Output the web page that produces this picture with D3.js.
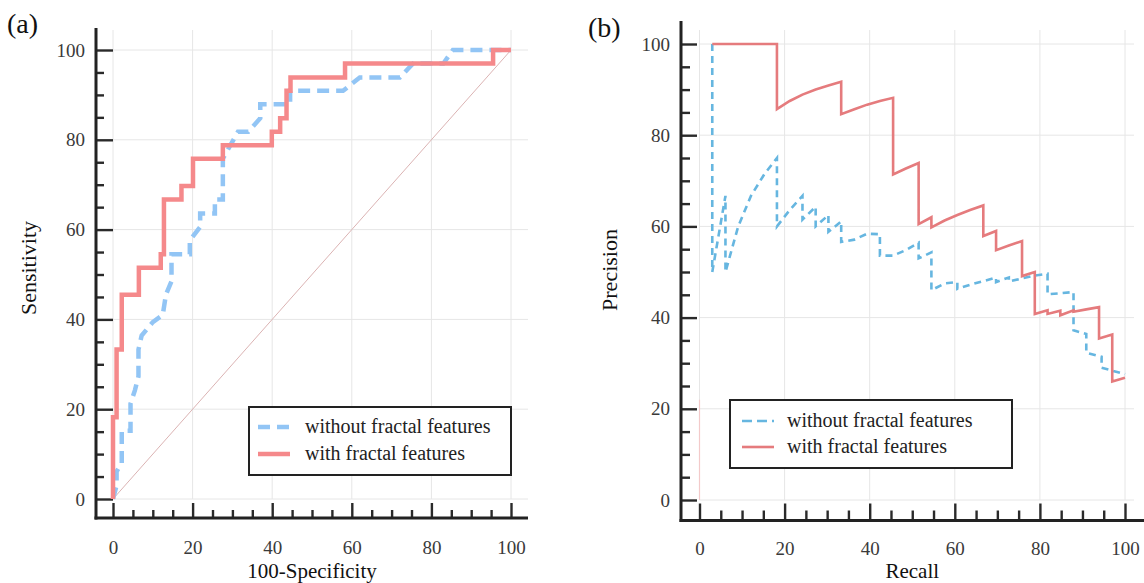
<!DOCTYPE html>
<html>
<head>
<meta charset="utf-8">
<script src="https://cdn.jsdelivr.net/npm/d3@7"></script>
<style>
  body { margin: 0; background: #fff; }
  svg text { font-family: "Liberation Serif", "Times New Roman", Times, "DejaVu Serif", serif !important; }
</style>
</head>
<body>
<div id="chart"></div>
<script>
// ---- data ----
var ticks = [0, 20, 40, 60, 80, 100];
var minorTicks = [5, 10, 15, 25, 30, 35, 45, 50, 55, 65, 70, 75, 85, 90, 95];
var seriesNames = ['without fractal features', 'with fractal features'];

// ROC, [100-specificity, sensitivity]
var rocWithout = [[0,0],[0.9,3],[0.9,6.1],[2.2,8],[2.2,15.2],[4.4,15.2],[4.4,21.2],[5.5,24.2],[6.4,27.3],[6.4,33.3],
  [7.2,36.4],[10,39.4],[12.5,41],[13.3,45.5],[14.7,48.5],[14.7,54.5],[19.3,54.5],[19.3,57.6],[21.9,60.6],[21.9,63.6],
  [25.6,63.6],[25.6,66.7],[27.6,66.7],[27.6,75.8],[29.5,78.8],[31.4,81.8],[34,81.8],[37,84.8],[37,87.9],[44.5,87.9],
  [44.5,90.9],[57.8,90.9],[62,93.9],[72.1,93.9],[75.4,97],[83,97],[85.4,100],[100,100]];
var rocWith = [[0,0],[0,18.2],[0.9,18.2],[0.9,33.3],[2.2,33.3],[2.2,45.5],[6.5,45.5],[6.5,51.5],[12,51.5],[12,54.5],
  [12.8,54.5],[12.8,66.7],[17.2,66.7],[17.2,69.7],[20.1,69.7],[20.1,75.8],[27.6,75.8],[27.6,78.8],[39.9,78.8],[39.9,81.8],
  [42,81.8],[42,84.8],[43.6,84.8],[43.6,90.9],[44.6,90.9],[44.6,93.9],[58.3,93.9],[58.3,97],[95.5,97],[95.5,100],[100,100]];
var rocChance = [[0,0],[100,100]];

// PR, [recall, precision]
var prWithout = [[3,100],[3,50],[6.1,66.7],[6.1,50],[9.1,60],[12.1,66.7],[15.2,71.4],[18.2,75],[18.2,60],[21.2,63.6],
  [24.2,66.7],[24.2,61.5],[27.3,64.3],[27.3,60],[30.3,62.5],[30.3,58.8],[33.3,61.1],[33.3,56.6],[36.4,57.1],[39.4,58.4],
  [42.4,58.3],[42.4,53.6],[45.5,53.6],[48.5,54.8],[51.5,56.4],[51.5,53],[54.5,54.3],[54.5,46],[57.6,47.5],[60.6,47.8],
  [60.6,46.3],[63.6,47.2],[66.7,48],[69.7,48.8],[69.7,47.8],[72.7,48.8],[72.7,47.9],[75.8,48.6],[78.8,49.2],[81.8,49.6],
  [81.8,45.1],[87.9,45.6],[87.9,37.2],[90.9,36.4],[90.9,32.3],[94.5,31.4],[94.5,29],[100,27.6]];
var prWith = [[3,100],[18.2,100],[18.2,85.7],[21.2,87.5],[24.2,88.9],[27.3,90],[30.3,90.9],[33.3,91.7],[33.3,84.6],
  [36.4,85.7],[39.4,86.7],[42.4,87.5],[45.5,88.2],[45.5,71.4],[48.5,72.7],[51.5,73.9],[51.5,60.5],[54.5,62],[54.5,59.8],
  [57.6,61.3],[60.6,62.5],[63.6,63.6],[66.7,64.6],[66.7,57.9],[69.7,59],[69.7,54.8],[72.7,55.8],[75.8,56.8],[75.8,49.1],
  [78.8,50],[78.8,40.8],[81.8,41.6],[81.8,40.8],[84.8,41.5],[84.8,40.5],[87.9,41.6],[87.9,41.3],[90.9,41.8],[93.9,42.3],
  [93.9,35.4],[97,36.3],[97,26],[100,26.8]];
var prBase = [[0,0],[0,22]];

var W = 1144, H = 583;
var svg = d3.select('#chart').append('svg').attr('width', W).attr('height', H);

function panel(o) {
  var x = d3.scaleLinear().domain([0, 100]).range(o.xr);
  var y = d3.scaleLinear().domain([0, 100]).range(o.yr);
  var g = svg.append('g');

  // grid
  g.append('g').selectAll('line').data(ticks).enter().append('line')
    .attr('x1', d => x(d)).attr('x2', d => x(d))
    .attr('y1', o.gridTop).attr('y2', y(0))
    .attr('stroke', '#e6e6e6').attr('stroke-width', 1);
  g.append('g').selectAll('line').data(ticks).enter().append('line')
    .attr('x1', x(0)).attr('x2', o.gridRight)
    .attr('y1', d => y(d)).attr('y2', d => y(d))
    .attr('stroke', '#e6e6e6').attr('stroke-width', 1);

  // axes (ticks pointing inward, offset axis lines)
  var yAx = g.append('g').attr('transform', 'translate(' + o.axX + ',0)')
    .call(d3.axisLeft(y).tickValues(ticks).tickSize(-o.yMajor).tickPadding(11));
  var yMin = g.append('g').attr('transform', 'translate(' + o.axX + ',0)')
    .call(d3.axisLeft(y).tickValues(minorTicks).tickSize(-o.yMinor).tickFormat(''));
  var xAx = g.append('g').attr('transform', 'translate(0,' + o.axY + ')')
    .call(d3.axisBottom(x).tickValues(ticks).tickSize(-o.xMajor).tickPadding(o.xPad));
  var xMin = g.append('g').attr('transform', 'translate(0,' + o.axY + ')')
    .call(d3.axisBottom(x).tickValues(minorTicks).tickSize(-o.xMinor).tickFormat(''));
  [yAx, yMin, xAx, xMin].forEach(function(a) {
    a.attr('font-family', null);
    a.select('.domain').remove();
    a.selectAll('line').attr('stroke', '#2a2a2a').attr('stroke-width', 2.4);
    a.selectAll('text').attr('font-size', 19).attr('fill', '#3a3a3a');
  });
  g.append('line').attr('x1', o.axX).attr('x2', o.axX).attr('y1', o.axTop).attr('y2', o.axY + 1.5)
    .attr('stroke', '#222').attr('stroke-width', 3);
  g.append('line').attr('x1', o.axX - 1.5).attr('x2', o.axRight).attr('y1', o.axY).attr('y2', o.axY)
    .attr('stroke', '#222').attr('stroke-width', 3);

  var line = d3.line().x(d => x(d[0])).y(d => y(d[1]));
  o.extra.forEach(function(e) {
    g.append('path').attr('d', line(e.data)).attr('fill', 'none')
      .attr('stroke', e.color).attr('stroke-width', e.width);
  });
  o.series.forEach(function(s) {
    g.append('path').attr('d', line(s.data)).attr('fill', 'none')
      .attr('stroke', s.color).attr('stroke-width', s.width)
      .attr('stroke-dasharray', s.dash || null)
      .attr('stroke-linejoin', 'miter');
  });

  // legend
  var L = o.legend;
  var lg = g.append('g');
  lg.append('rect').attr('x', L.x).attr('y', L.y).attr('width', L.w).attr('height', L.h)
    .attr('fill', '#fff').attr('stroke', '#222').attr('stroke-width', 2);
  o.series.forEach(function(s, i) {
    var yy = L.y + L.row0 + i * L.dy;
    lg.append('line').attr('x1', L.x + L.s0).attr('x2', L.x + L.s1).attr('y1', yy).attr('y2', yy)
      .attr('stroke', s.color).attr('stroke-width', s.width).attr('stroke-dasharray', s.legDash || null);
    lg.append('text').attr('x', L.x + L.tx).attr('y', yy + 6).attr('font-size', 20).attr('fill', '#222')
      .text(seriesNames[i]);
  });

  // titles
  g.append('text').attr('x', o.tag[0]).attr('y', o.tag[1]).attr('font-size', 28).attr('fill', '#111').text(o.tagText);
  g.append('text').attr('x', (x(0) + x(100)) / 2).attr('y', 578).attr('text-anchor', 'middle')
    .attr('font-size', 21).attr('fill', '#111').text(o.xTitle);
  g.append('text').attr('transform', 'translate(' + o.yTitle[0] + ',' + o.yTitle[1] + ') rotate(-90)')
    .attr('text-anchor', 'middle').attr('font-size', 22).attr('fill', '#111').text(o.yTitleText);
}

panel({
  xr: [113, 511], yr: [499, 50], gridTop: 30, gridRight: 528,
  axX: 96, axY: 518, axTop: 28, axRight: 528,
  yMajor: 17, yMinor: 8, xMajor: 15, xMinor: 8, xPad: 23,
  extra: [{ data: rocChance, color: '#dbb3b3', width: 1 }],
  series: [
    { data: rocWithout, color: '#92c5f5', width: 4.5, dash: '12,7', legDash: '12,7' },
    { data: rocWith, color: '#f5898b', width: 4.5 }
  ],
  legend: { x: 249, y: 407, w: 262, h: 68, row0: 20, dy: 27, s0: 9, s1: 41, tx: 56 },
  tag: [7, 33], tagText: '(a)',
  xTitle: '100-Specificity', yTitle: [36, 268], yTitleText: 'Sensitivity'
});

panel({
  xr: [699.5, 1125], yr: [500, 44], gridTop: 30, gridRight: 1134,
  axX: 681, axY: 520.5, axTop: 21, axRight: 1144,
  yMajor: 16, yMinor: 9, xMajor: 17, xMinor: 10, xPad: 21,
  extra: [{ data: prBase, color: '#f3caca', width: 1.2 }],
  series: [
    { data: prWithout, color: '#66b6e0', width: 2.6, dash: '7,5', legDash: '10,5' },
    { data: prWith, color: '#e57b7d', width: 2.6 }
  ],
  legend: { x: 730, y: 400, w: 282, h: 68, row0: 21, dy: 26, s0: 12, s1: 44, tx: 57 },
  tag: [588, 37], tagText: '(b)',
  xTitle: 'Recall', yTitle: [617, 270], yTitleText: 'Precision'
});
</script>
</body>
</html>
